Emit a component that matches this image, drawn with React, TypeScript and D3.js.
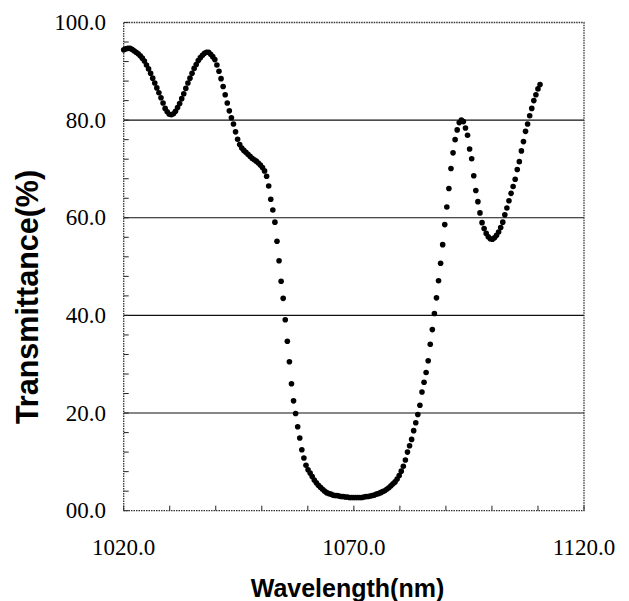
import * as d3 from 'd3';

// sampling of the spectrum (nm)
const wavelengthStart = 1020;
const wavelengthStep = 0.45;

// transmittance (%), one value per sample
const transmittance = [
  94.4, 94.6, 94.7, 94.7, 94.5, 94.2, 93.9, 93.6, 93.2, 92.7,
  92.1, 91.3, 90.5, 89.6, 88.6, 87.6, 86.6, 85.6, 84.6, 83.5,
  82.4, 81.7, 81.2, 81.1, 81.3, 81.8, 82.6, 83.4, 84.4, 85.4,
  86.5, 87.6, 88.6, 89.6, 90.6, 91.4, 92.2, 92.8, 93.3, 93.7,
  93.9, 93.9, 93.5, 93.0, 92.4, 91.3, 90.0, 88.5, 86.9, 85.2,
  83.5, 81.9, 80.5, 79.2, 77.6, 76.1, 75.0, 74.3, 73.8, 73.4,
  73.0, 72.6, 72.2, 71.9, 71.6, 71.2, 70.8, 70.3, 69.6, 68.5,
  66.5, 63.8, 61.6, 59.1, 55.2, 51.2, 47.0, 43.5, 39.1, 34.7,
  30.5, 26.0, 22.5, 19.9, 17.2, 14.9, 12.5, 10.8, 9.3, 8.4,
  7.7, 7.0, 6.3, 5.7, 5.2, 4.8, 4.4, 4.0, 3.7, 3.5,
  3.4, 3.2, 3.1, 3.1, 3.0, 2.9, 2.9, 2.8, 2.8, 2.7,
  2.7, 2.7, 2.7, 2.7, 2.7, 2.7, 2.8, 2.9, 2.9, 3.0,
  3.1, 3.2, 3.4, 3.5, 3.7, 3.9, 4.1, 4.4, 4.7, 5.1,
  5.5, 5.9, 6.5, 7.2, 8.1, 9.1, 10.4, 12.0, 13.3, 14.6,
  16.4, 18.0, 19.7, 21.6, 24.3, 26.3, 28.3, 30.7, 34.1, 37.1,
  40.4, 43.6, 47.1, 50.7, 54.5, 58.6, 62.2, 66.0, 70.1, 73.3,
  76.0, 78.0, 79.5, 80.0, 79.7, 78.4, 76.9, 74.1, 72.1, 68.6,
  65.6, 63.3, 61.0, 59.0, 57.8, 56.8, 56.1, 55.7, 55.6, 55.9,
  56.4, 57.1, 58.0, 59.1, 60.6, 62.0, 63.5, 65.0, 66.4, 67.9,
  69.9, 71.5, 73.7, 75.6, 77.7, 79.2, 80.9, 82.4, 84.0, 85.2,
  86.4, 87.3,
];

const xTickLabels = [1020, 1070, 1120];
const yTickLabels = [0, 20, 40, 60, 80, 100];
const gridValues = [20, 40, 60, 80];

const width = 629;
const height = 601;
const margin = { top: 22.5, right: 45, bottom: 90.3, left: 123.7 };

export default function App() {
  const x = d3.scaleLinear().domain([1020, 1120]).range([margin.left, width - margin.right]);
  const y = d3.scaleLinear().domain([0, 100]).range([height - margin.bottom, margin.top]);

  const points = transmittance.map((v, i) => ({ w: wavelengthStart + i * wavelengthStep, t: v }));
  const xMinor = d3.range(1020, 1121, 10);
  const yMinor = d3.range(0, 101, 4);

  const x0 = x(1020), x1 = x(1120), y0 = y(0), y1 = y(100);
  const serif = { fontFamily: "'Liberation Serif', 'Times New Roman', Times, 'DejaVu Serif', serif" };
  const sans = { fontFamily: "'Liberation Sans', Arial, Helvetica, sans-serif", fontWeight: 700 };

  const fmt = (v: number) => (v === 0 ? '00.0' : v.toFixed(1));

  return (
    <svg width={width} height={height} style={{ position: 'absolute', left: 0, top: 0, background: '#fff' }}>
      {/* grid lines */}
      {gridValues.map(v => (
        <line key={'g' + v} x1={x0} x2={x1} y1={y(v)} y2={y(v)} stroke="#111" strokeWidth={1.1} />
      ))}

      {/* minor ticks */}
      {yMinor.map(v => (
        <line key={'yt' + v} x1={x0} x2={x0 + 5} y1={y(v)} y2={y(v)} stroke="#222" strokeWidth={1} />
      ))}
      {xMinor.map(v => (
        <line key={'xt' + v} x1={x(v)} x2={x(v)} y1={y0} y2={y0 - 5} stroke="#222" strokeWidth={1} />
      ))}

      {/* frame */}
      <rect x={x0} y={y1} width={x1 - x0} height={y0 - y1} fill="none"
        stroke="#333" strokeWidth={1.3} strokeDasharray="1.5,1" />

      {/* data */}
      {points.map((p, i) => (
        <circle key={i} cx={x(p.w)} cy={y(p.t)} r={2.8} fill="#000" />
      ))}

      {/* y tick labels */}
      {yTickLabels.map(v => (
        <text key={'yl' + v} x={106} y={y(v) + 7.5} textAnchor="end"
          style={serif} fontSize={23} fill="#000">{fmt(v)}</text>
      ))}

      {/* x tick labels */}
      {xTickLabels.map(v => (
        <text key={'xl' + v} x={x(v)} y={555} textAnchor="middle"
          style={serif} fontSize={23} fill="#000">{v.toFixed(1)}</text>
      ))}

      {/* axis titles */}
      <text x={347.5} y={597} textAnchor="middle" style={sans}
        fontSize={25} fill="#000">Wavelength(nm)</text>
      <text transform="translate(38,297) rotate(-90)" textAnchor="middle" style={sans}
        fontSize={30.5} fill="#000">Transmittance(%)</text>
    </svg>
  );
}
